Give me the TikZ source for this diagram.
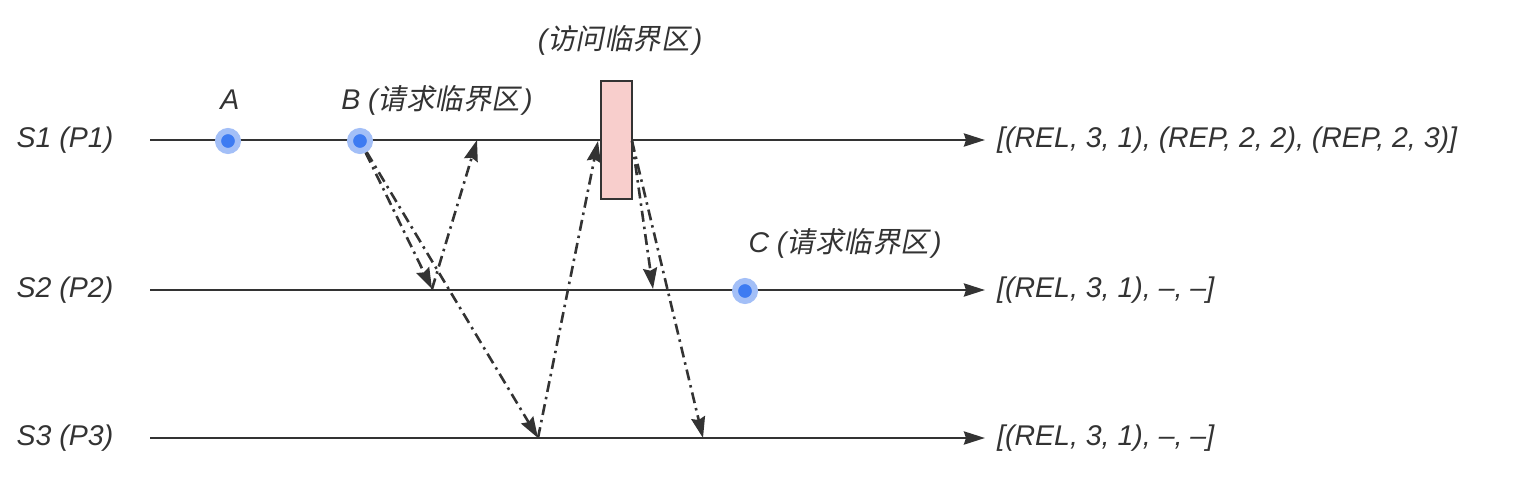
\documentclass[tikz,border=0pt]{standalone}
\usepackage{fontspec}
\setmainfont{Liberation Sans}
\newfontfamily\cjk[FakeSlant=0.2]{Noto Sans CJK SC}
\usetikzlibrary{arrows.meta}
\definecolor{ink}{HTML}{333333}
\definecolor{dotin}{HTML}{3D7BF2}
\definecolor{dotout}{HTML}{A3BFF7}
\definecolor{rectfill}{HTML}{F8CECC}
\tikzset{
  lbl/.style={text=ink, font=\fontsize{28.5}{34}\selectfont\itshape, inner sep=0pt},
  timeline/.style={draw=ink, line width=2.9pt, -{Stealth[length=21pt,width=13pt,inset=2pt]}},
  msg/.style={draw=ink, line width=2.6pt, dash pattern=on 11pt off 5pt on 2.5pt off 5pt,
    -{Stealth[length=21pt,width=14pt,inset=2.5pt]}},
  evdot/.style={circle, minimum size=20pt, inner sep=0pt, draw=dotout, line width=6pt, fill=dotin},
  cs/.style={draw=ink, line width=2.6pt, fill=rectfill, minimum width=31pt, minimum height=118pt, inner sep=0pt}
}
\begin{document}
\begin{tikzpicture}[x=1pt,y=-1pt]
\useasboundingbox (0,0) rectangle (1538,492);
% process labels
\node[lbl] (p1) at (65,140) {S1 (P1)};
\node[lbl] (p2) at (65,290) {S2 (P2)};
\node[lbl] (p3) at (65,438) {S3 (P3)};
% timelines
\coordinate (l1s) at (150,140); \coordinate (l1e) at (985,140);
\coordinate (l2s) at (150,290); \coordinate (l2e) at (985,290);
\coordinate (l3s) at (150,438); \coordinate (l3e) at (985,438);
\draw[timeline] (l1s) -- (l1e);
\draw[timeline] (l2s) -- (l2e);
\draw[timeline] (l3s) -- (l3e);
% queue labels
\node[lbl, anchor=west] (q1) at (997,140) {[(REL, 3, 1), (REP, 2, 2), (REP, 2, 3)]};
\node[lbl, anchor=west] (q2) at (997,290) {[(REL, 3, 1), –, –]};
\node[lbl, anchor=west] (q3) at (997,438) {[(REL, 3, 1), –, –]};
% critical section box
\node[cs] (R) at (616.5,140) {};
\node[lbl] (rl) at (620,40) {({\cjk 访问临界区}\kern3pt)};
% message points
\coordinate (m2a) at (432,289);
\coordinate (m1a) at (477,140);
\coordinate (m3a) at (538,438);
\coordinate (m1b) at (598,141);
\coordinate (r1) at (632,141);
\coordinate (m2b) at (653,289);
\coordinate (m3b) at (703,438);
% messages
\draw[msg] (r1) -- (m2b);
\draw[msg] (r1) -- (m3b);
\draw[msg] (m3a) -- (m1b);
\draw[msg] (m2a) -- (m1a);
% events
\node[evdot] (A) at (228,141) {};
\node[evdot] (B) at (360,141) {};
\node[evdot] (C) at (745,291) {};
\draw[msg] (B) -- (m2a);
\draw[msg] (B) -- (m3a);
\node[lbl] (Al) at (230,100) {A};
\node[lbl] (Bl) at (437,100) {B ({\cjk 请求临界区}\kern3pt)};
\node[lbl] (Cl) at (845,243) {C ({\cjk 请求临界区}\kern3pt)};
\end{tikzpicture}
\end{document}
